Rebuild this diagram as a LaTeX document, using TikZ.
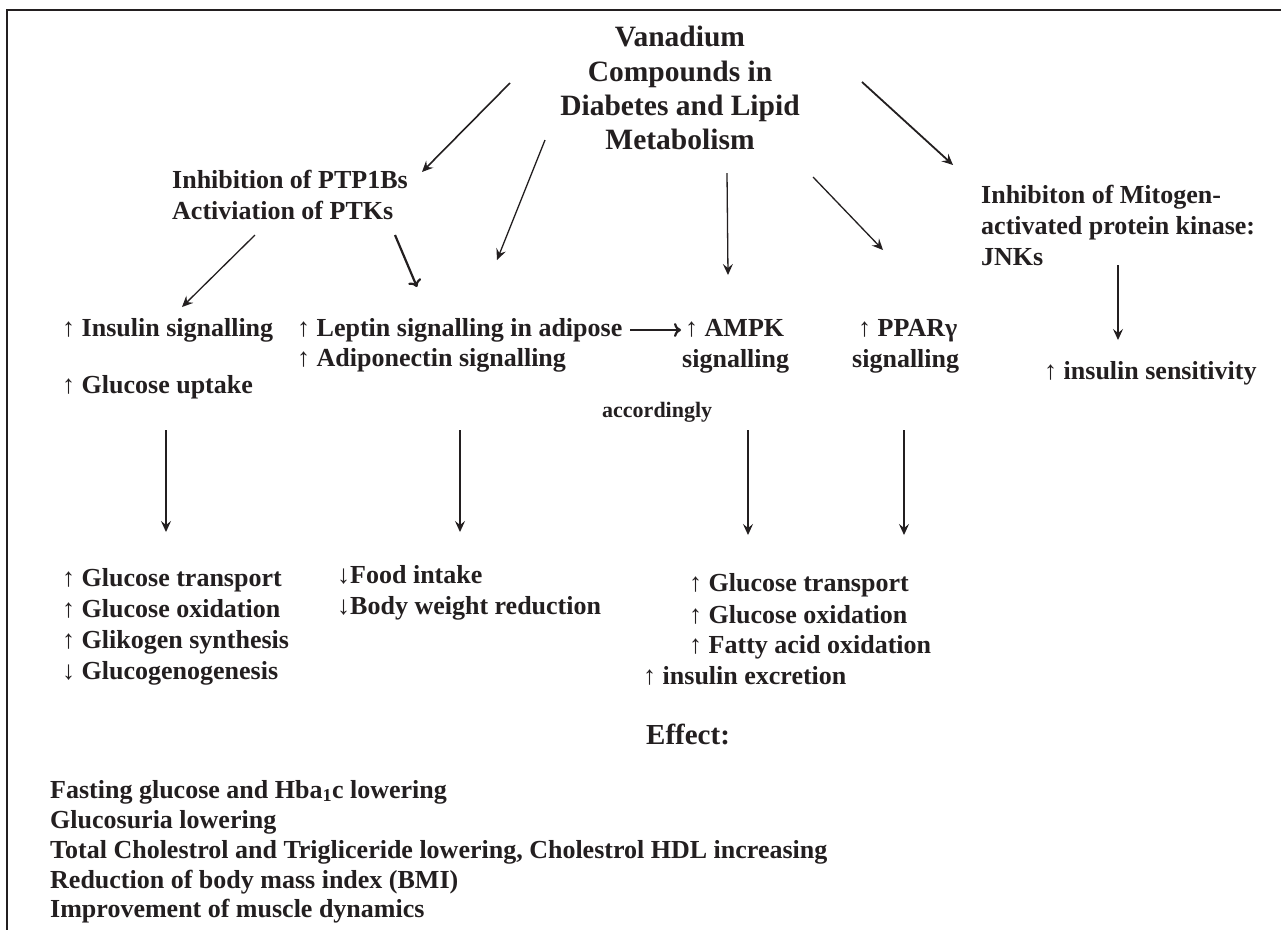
\documentclass[tikz,border=0pt]{standalone}
\usepackage{fontspec}
\setmainfont{Liberation Serif}
\usetikzlibrary{arrows.meta}
\definecolor{ink}{HTML}{231F20}
\begin{document}
\begin{tikzpicture}[x=1pt,y=-1pt,
  txt/.style={inner sep=0pt, anchor=west, text=ink,
    font=\bfseries\fontsize{26}{30}\selectfont, text height=18pt, text depth=6pt},
  ttl/.style={txt, anchor=center, font=\bfseries\fontsize{29.5}{34}\selectfont,
    text height=20pt, text depth=7pt},
  small/.style={txt, font=\bfseries\fontsize{22}{26}\selectfont, text height=15pt, text depth=5pt},
  big/.style={txt, font=\bfseries\fontsize{29}{34}\selectfont, text height=20pt, text depth=6pt},
  thin/.style={draw=ink, line width=1.3pt, -{Stealth[length=11pt,width=10pt,inset=4pt]}},
  thick/.style={draw=ink, line width=2.2pt, -{To[length=7pt,width=14pt]}}
]
\useasboundingbox (0,0) rectangle (1281,930);
\fill[white] (0,0) rectangle (1281,930);
% frame
\draw[ink, line width=2pt] (1281,10) -- (7,10) -- (7,930);

% title
\node[ttl] (t1) at (680,40) {Vanadium};
\node[ttl] (t2) at (680,75) {Compounds in};
\node[ttl] (t3) at (680,109) {Diabetes and Lipid};
\node[ttl] (t4) at (680,143) {Metabolism};

% second level
\node[txt] (inh1) at (172,182) {Inhibition of PTP1Bs};
\node[txt] (inh2) at (172,213) {Activiation of PTKs};
\node[txt] (jnk1) at (981,197) {Inhibiton of Mitogen-};
\node[txt] (jnk2) at (981,228) {activated protein kinase:};
\node[txt] (jnk3) at (981,259) {JNKs};

% third level
\node[txt] (ins) at (62,330) {↑ Insulin signalling};
\node[txt] (glu) at (62,387) {↑ Glucose uptake};
\node[txt] (lep1) at (297,330) {↑ Leptin signalling in adipose};
\node[txt] (lep2) at (297,360) {↑ Adiponectin signalling};
\node[txt] (ampk1) at (685,330) {↑ AMPK};
\node[txt] (ampk2) at (682,361) {signalling};
\node[txt] (ppar1) at (858,330) {↑ PPARγ};
\node[txt] (ppar2) at (852,361) {signalling};
\node[txt] (sens) at (1044,373) {↑ insulin sensitivity};
\node[small] (acc) at (602,412) {accordingly};

% fourth level
\node[txt] (g1) at (62,580) {↑ Glucose transport};
\node[txt] (g2) at (62,611) {↑ Glucose oxidation};
\node[txt] (g3) at (62,642) {↑ Glikogen synthesis};
\node[txt] (g4) at (62,673) {↓ Glucogenogenesis};
\node[txt] (f1) at (337,577) {↓Food intake};
\node[txt] (f2) at (337,608) {↓Body weight reduction};
\node[txt] (a1) at (689,585) {↑ Glucose transport};
\node[txt] (a2) at (689,617) {↑ Glucose oxidation};
\node[txt] (a3) at (689,647) {↑ Fatty acid oxidation};
\node[txt] (a4) at (643,678) {↑ insulin excretion};

% effect
\node[big] (eff) at (646,737) {Effect:};
\node[txt] (e1) at (50,792) {Fasting glucose and Hba\textsubscript{1}c lowering};
\node[txt] (e2) at (50,822) {Glucosuria lowering};
\node[txt] (e3) at (50,852) {Total Cholestrol and Trigliceride lowering, Cholestrol HDL increasing};
\node[txt] (e4) at (50,882) {Reduction of body mass index (BMI)};
\node[txt] (e5) at (50,911) {Improvement of muscle dynamics};

% arrow end points
\coordinate (A1s) at (510,83);  \coordinate (A1e) at (422,172);
\coordinate (A2s) at (545,140); \coordinate (A2e) at (497,260);
\coordinate (A3s) at (727,173); \coordinate (A3e) at (728,275);
\coordinate (A4s) at (813,177); \coordinate (A4e) at (883,250);
\coordinate (A5s) at (862,82);  \coordinate (A5e) at (953,165);
\coordinate (A6s) at (255,235); \coordinate (A6e) at (182,307);
\coordinate (A7s) at (395,235); \coordinate (A7e) at (417,287);
\coordinate (A8s) at (1118,265); \coordinate (A8e) at (1118,340);
\coordinate (B1s) at (166,430); \coordinate (B1e) at (166,532);
\coordinate (B2s) at (460,430); \coordinate (B2e) at (460,532);
\coordinate (B3s) at (748,430); \coordinate (B3e) at (748,535);
\coordinate (B4s) at (904,430); \coordinate (B4e) at (904,535);
\coordinate (Ls) at (630,330); \coordinate (Le) at (681,330);

\draw[thin, line width=1.6pt] (A1s) -- (A1e);
\draw[thin] (A2s) -- (A2e);
\draw[thin] (A3s) -- (A3e);
\draw[thin] (A4s) -- (A4e);
\draw[thin, line width=1.8pt] (A5s) -- (A5e);
\draw[thin] (A6s) -- (A6e);
\draw[thick] (A7s) -- (A7e);
\draw[thin] (A8s) -- (A8e);
\draw[thin] (B1s) -- (B1e);
\draw[thin] (B2s) -- (B2e);
\draw[thin] (B3s) -- (B3e);
\draw[thin] (B4s) -- (B4e);
\draw[thick] (Ls) -- (Le);
\end{tikzpicture}
\end{document}
